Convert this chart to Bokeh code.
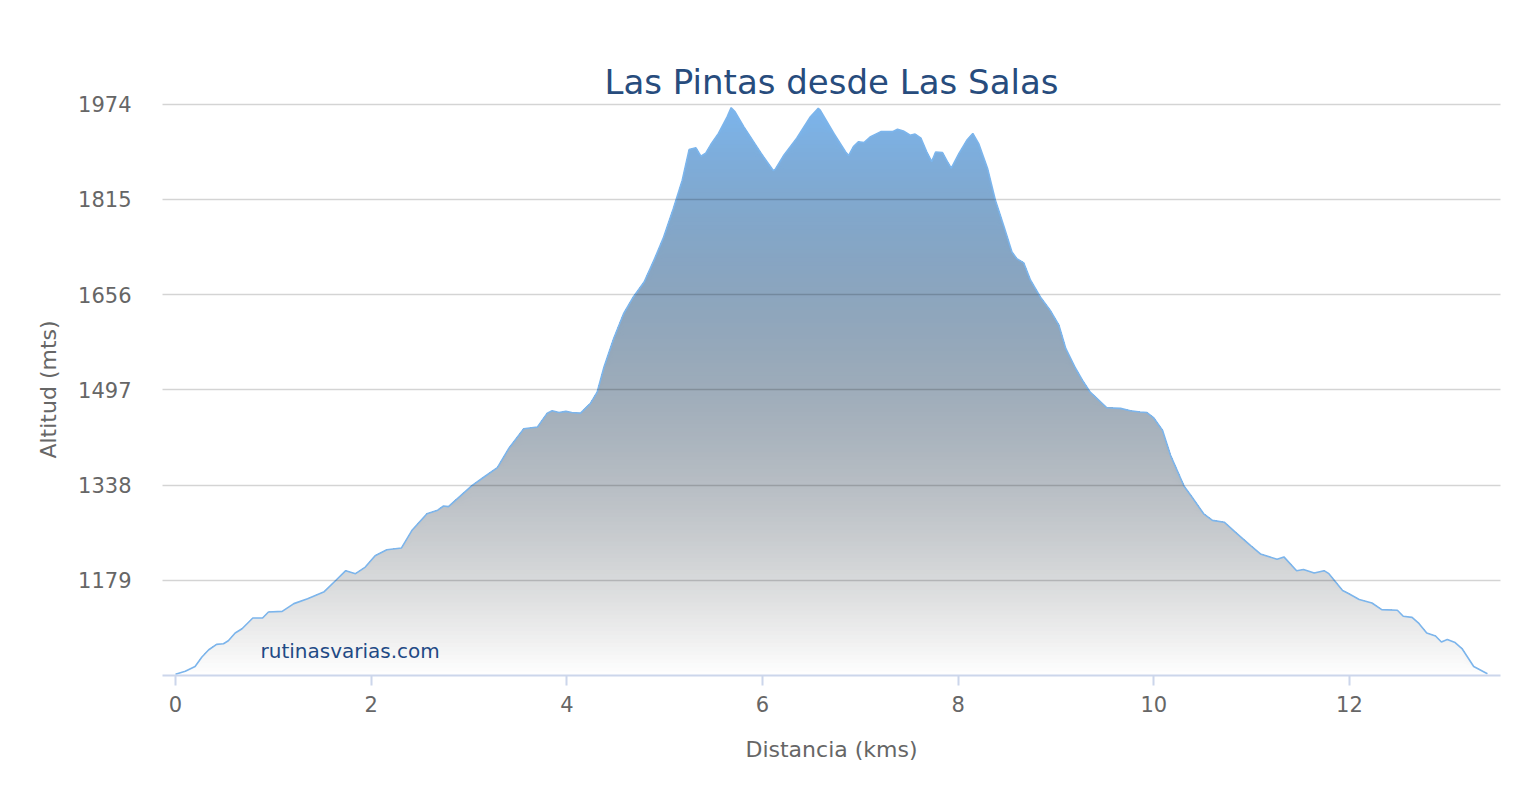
import numpy as np
from bokeh.plotting import figure
from bokeh.models import Range1d, FixedTicker, Label
from bokeh.embed import file_html
from bokeh.resources import INLINE

# ---------------- data ----------------
title_text = "Las Pintas desde Las Salas"
x_title = "Distancia (kms)"
y_title = "Altitud (mts)"
watermark = "rutinasvarias.com"

y_ticks = [1179, 1338, 1497, 1656, 1815, 1974]
x_ticks = [0, 2, 4, 6, 8, 10, 12]
y_min = 1020
y_max = 1975

distance_km = [
    0.00, 0.10, 0.20, 0.27, 0.34, 0.42, 0.49, 0.54, 0.61, 0.68,
    0.79, 0.89, 0.95, 1.09, 1.21, 1.35, 1.52, 1.64, 1.74, 1.84,
    1.94, 2.04, 2.16, 2.31, 2.42, 2.57, 2.68, 2.74, 2.79, 3.03,
    3.15, 3.29, 3.41, 3.56, 3.70, 3.80, 3.85, 3.92, 3.99, 4.05,
    4.14, 4.24, 4.31, 4.38, 4.48, 4.58, 4.68, 4.79, 4.89, 4.99,
    5.09, 5.18, 5.25, 5.32, 5.37, 5.42, 5.47, 5.55, 5.64, 5.68,
    5.72, 5.81, 5.91, 6.01, 6.11, 6.13, 6.22, 6.35, 6.49, 6.57,
    6.59, 6.73, 6.85, 6.88, 6.93, 6.98, 7.04, 7.10, 7.21, 7.33,
    7.38, 7.44, 7.51, 7.56, 7.62, 7.68, 7.73, 7.77, 7.84, 7.89,
    7.93, 8.01, 8.09, 8.15, 8.21, 8.30, 8.38, 8.47, 8.55, 8.60,
    8.67, 8.74, 8.84, 8.94, 9.03, 9.10, 9.20, 9.27, 9.35, 9.52,
    9.66, 9.76, 9.86, 9.93, 10.00, 10.09, 10.17, 10.31, 10.39, 10.51,
    10.60, 10.72, 10.85, 10.99, 11.09, 11.26, 11.33, 11.46, 11.53, 11.64,
    11.74, 11.79, 11.93, 11.99, 12.10, 12.23, 12.33, 12.49, 12.55, 12.64,
    12.71, 12.79, 12.88, 12.94, 13.00, 13.08, 13.15, 13.27, 13.41,
]

altitude_m = [
    1022, 1027, 1035, 1051, 1063, 1072, 1073, 1078, 1091, 1098,
    1116, 1116, 1126, 1127, 1140, 1148, 1160, 1179, 1195, 1190,
    1201, 1220, 1230, 1233, 1263, 1290, 1296, 1303, 1302, 1337,
    1351, 1367, 1400, 1432, 1435, 1458, 1462, 1459, 1461, 1459,
    1458, 1474, 1493, 1535, 1583, 1624, 1652, 1677, 1713, 1752,
    1800, 1847, 1898, 1901, 1887, 1892, 1906, 1925, 1953, 1968,
    1961, 1936, 1911, 1886, 1863, 1865, 1889, 1917, 1953, 1967,
    1964, 1925, 1894, 1888, 1903, 1911, 1910, 1919, 1928, 1928,
    1932, 1929, 1922, 1924, 1917, 1894, 1878, 1894, 1893, 1878,
    1867, 1892, 1914, 1925, 1908, 1867, 1814, 1769, 1727, 1716,
    1709, 1680, 1652, 1630, 1605, 1566, 1533, 1513, 1493, 1467,
    1466, 1462, 1460, 1459, 1450, 1429, 1388, 1336, 1318, 1290,
    1279, 1276, 1257, 1237, 1223, 1214, 1218, 1195, 1197, 1191,
    1195, 1190, 1162, 1157, 1147, 1141, 1130, 1129, 1119, 1117,
    1107, 1091, 1086, 1076, 1080, 1075, 1065, 1035, 1023,
]

# ---------------- style ----------------
FONT = "DejaVu Sans"
LINE_RGB = (124, 181, 236)

p = figure(
    width=1540, height=800,
    output_backend="svg", toolbar_location=None,
    x_range=Range1d(-0.133, 13.544),
    y_range=Range1d(y_min, y_max),
    min_border_left=162, min_border_right=40,
    min_border_top=103, min_border_bottom=125,
)
p.outline_line_color = None
p.background_fill_color = "white"
p.border_fill_color = "white"

xs = np.array(distance_km, dtype=float)
ys = np.array(altitude_m, dtype=float)
top = ys.max()

# vertical gradient: series colour fading to transparent black, composed over white
N = 140
edges = np.linspace(y_min, top, N + 1)
for k in range(N, 0, -1):
    mid = 0.5 * (edges[k - 1] + edges[k])
    t = (top - mid) / (top - y_min)
    a = 1.0 - t
    rgb = tuple(int(round(a * a * c + (1 - a) * 255)) for c in LINE_RGB)
    col = "#%02x%02x%02x" % rgb
    p.varea(x=xs, y1=y_min, y2=np.minimum(ys, edges[k]),
            fill_color=col, fill_alpha=1.0)

p.line(xs, ys, line_color="#7cb5ec", line_width=1.6)

# grid
p.xgrid.grid_line_color = None
p.ygrid.ticker = FixedTicker(ticks=y_ticks)
p.ygrid.grid_line_color = "black"
p.ygrid.grid_line_alpha = 0.17
p.ygrid.grid_line_width = 1.5
p.ygrid.level = "overlay"

# x axis
xa = p.xaxis[0]
xa.ticker = FixedTicker(ticks=x_ticks)
xa.axis_line_color = "#ccd6eb"
xa.axis_line_width = 2
xa.major_tick_line_color = "#ccd6eb"
xa.major_tick_line_width = 2
xa.major_tick_out = 10
xa.major_tick_in = 0
xa.minor_tick_line_color = None
xa.major_label_text_font = FONT
xa.major_label_text_font_size = "21px"
xa.major_label_text_color = "#666666"
xa.major_label_standoff = 10
xa.axis_label = x_title
xa.axis_label_text_font = FONT
xa.axis_label_text_font_size = "22px"
xa.axis_label_text_font_style = "normal"
xa.axis_label_text_color = "#666666"
xa.axis_label_standoff = 22

# y axis
ya = p.yaxis[0]
ya.ticker = FixedTicker(ticks=y_ticks)
ya.axis_line_color = None
ya.major_tick_line_color = None
ya.minor_tick_line_color = None
ya.major_tick_out = 0
ya.major_tick_in = 0
ya.major_label_text_font = FONT
ya.major_label_text_font_size = "21px"
ya.major_label_text_color = "#666666"
ya.major_label_standoff = 31
ya.axis_label = y_title
ya.axis_label_text_font = FONT
ya.axis_label_text_font_size = "22px"
ya.axis_label_text_font_style = "normal"
ya.axis_label_text_color = "#666666"
ya.axis_label_standoff = 14

# title
p.title.text = title_text
p.title.align = "center"
p.title.text_font = FONT
p.title.text_font_size = "34px"
p.title.text_font_style = "normal"
p.title.text_color = "#274c7d"
p.title.standoff = 4
p.title.offset = 4

# watermark
p.add_layout(Label(x=0.869, y=1061, text=watermark,
                   text_font=FONT, text_font_size="20px",
                   text_color="#1f4a85", text_baseline="alphabetic"))

open("out.html", "w").write(file_html(p, INLINE))
